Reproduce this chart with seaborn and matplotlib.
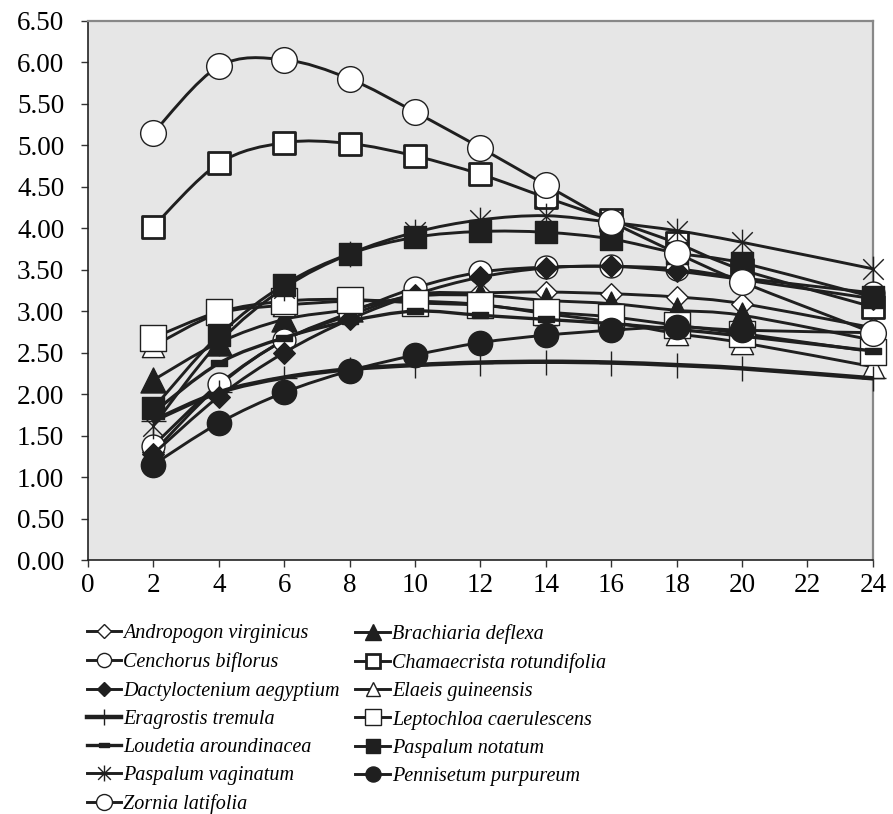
import numpy as np
import seaborn as sns
import matplotlib.pyplot as plt
from matplotlib.path import Path
from matplotlib.patches import PathPatch
from matplotlib.lines import Line2D

# time points (h)
hours = [2, 4, 6, 8, 10, 12, 14, 16, 18, 20, 24]

# values
andropogon = [1.30, 2.10, 2.65, 2.95, 3.20, 3.22, 3.23, 3.21, 3.17, 3.09, 2.80]
brachiaria = [2.17, 2.62, 2.90, 3.02, 3.18, 3.19, 3.13, 3.09, 3.01, 2.95, 2.65]
cenchorus = [1.38, 2.12, 2.65, 2.98, 3.28, 3.47, 3.53, 3.54, 3.51, 3.40, 3.22]
chamaecrista = [4.02, 4.78, 5.03, 5.02, 4.87, 4.65, 4.37, 4.10, 3.82, 3.50, 3.05]
dactyloctenium = [1.28, 1.97, 2.50, 2.90, 3.20, 3.41, 3.52, 3.54, 3.48, 3.38, 3.15]
elaeis = [2.58, 2.97, 3.07, 3.12, 3.12, 3.08, 2.97, 2.87, 2.73, 2.62, 2.33]
eragrostis = [1.68, 2.02, 2.20, 2.30, 2.35, 2.38, 2.39, 2.38, 2.35, 2.31, 2.19]
leptochloa = [2.68, 2.99, 3.12, 3.14, 3.10, 3.07, 2.99, 2.93, 2.83, 2.73, 2.51]
loudetia = [1.78, 2.37, 2.68, 2.88, 3.00, 2.95, 2.90, 2.85, 2.78, 2.70, 2.52]
notatum = [1.83, 2.71, 3.32, 3.69, 3.89, 3.96, 3.95, 3.87, 3.70, 3.58, 3.17]
vaginatum = [1.62, 2.62, 3.28, 3.69, 3.95, 4.10, 4.15, 4.07, 3.97, 3.83, 3.51]
pennisetum = [1.15, 1.65, 2.02, 2.28, 2.47, 2.62, 2.71, 2.77, 2.81, 2.77, 2.74]
zornia = [5.15, 5.95, 6.03, 5.80, 5.40, 4.97, 4.52, 4.08, 3.70, 3.35, 2.74]

names = ["Andropogon virginicus", "Brachiaria deflexa", "Cenchorus biflorus",
         "Chamaecrista rotundifolia", "Dactyloctenium aegyptium", "Elaeis guineensis",
         "Eragrostis tremula", "Leptochloa caerulescens", "Loudetia aroundinacea",
         "Paspalum notatum", "Paspalum vaginatum", "Pennisetum purpureum", "Zornia latifolia"]
series = [andropogon, brachiaria, cenchorus, chamaecrista, dactyloctenium, elaeis,
          eragrostis, leptochloa, loudetia, notatum, vaginatum, pennisetum, zornia]

# custom marker shapes
asterisk = Path([(0, -1), (0, 1), (-0.8, -0.8), (0.8, 0.8), (-0.8, 0.8), (0.8, -0.8)],
                [Path.MOVETO, Path.LINETO, Path.MOVETO, Path.LINETO, Path.MOVETO, Path.LINETO])
bar = [(-1, -0.32), (1, -0.32), (1, 0.32), (-1, 0.32), (-1, -0.32)]

INK = "#1f1f1f"

# marker, size (pt), face, marker edge width, line width
styles = [
    ("D", 11, "white", 1.0, 2.1),
    ("^", 18, INK, 1.0, 2.1),
    ("o", 16.5, "white", 1.0, 2.1),
    ("s", 16, "white", 2.0, 2.1),
    ("D", 11, INK, 1.0, 2.1),
    ("^", 16, "white", 1.0, 2.1),
    ("+", 18, INK, 1.0, 3.2),
    ("s", 18.5, "white", 1.0, 2.1),
    (bar, 11.5, INK, 1.0, 2.4),
    ("s", 16, INK, 1.0, 2.1),
    (asterisk, 18.5, INK, 1.0, 2.1),
    ("o", 17.5, INK, 1.0, 2.1),
    ("o", 18.5, "white", 1.0, 2.1),
]


def smooth_path(xs, ys):
    # Excel style smoothed line: cubic Bezier through every point
    p = np.column_stack([xs, ys]).astype(float)
    ext = np.vstack([p[0], p, p[-1]])
    verts = [p[0]]
    codes = [Path.MOVETO]
    for i in range(len(p) - 1):
        c1 = ext[i + 1] + (ext[i + 2] - ext[i]) / 6.0
        c2 = ext[i + 2] - (ext[i + 3] - ext[i + 1]) / 6.0
        verts += [c1, c2, p[i + 1]]
        codes += [Path.CURVE4] * 3
    return Path(verts, codes)


plt.rcParams['font.family'] = ['Liberation Serif', 'DejaVu Serif']

fig = plt.figure(figsize=(8.93, 8.14), dpi=100)
ax = fig.add_axes([0.0985, 0.312, 0.879, 0.6625])
ax.set_facecolor("#e6e6e6")

handles = []
for i, (name, ys, st) in enumerate(zip(names, series, styles)):
    marker, ms, face, mew, lw = st
    ax.add_patch(PathPatch(smooth_path(hours, ys), fill=False, edgecolor=INK,
                           lw=lw, zorder=2 + 2 * i, capstyle="round"))
    if marker == "+":
        sns.scatterplot(x=hours, y=ys, marker=marker, s=ms ** 2, color=INK,
                        linewidth=mew, ax=ax, zorder=3 + 2 * i, clip_on=False)
    else:
        sns.scatterplot(x=hours, y=ys, marker=marker, s=ms ** 2, color=face,
                        edgecolor=INK, linewidth=mew, ax=ax, zorder=3 + 2 * i,
                        clip_on=False)
    handles.append(Line2D([], [], color=INK, lw=lw, marker=marker,
                          markersize=ms * 0.62, markerfacecolor=face,
                          markeredgecolor=INK, markeredgewidth=mew))

ax.set_xlim(0, 24)
ax.set_ylim(0, 6.5)
ax.set_xticks(range(0, 25, 2))
ax.set_yticks(np.arange(0, 6.51, 0.5))
ax.set_yticklabels([f"{v:.2f}" for v in np.arange(0, 6.51, 0.5)])
ax.tick_params(axis="both", labelsize=19.5, direction="out", length=5, width=1, color="#333333")
ax.tick_params(axis="y", pad=12)
ax.tick_params(axis="x", pad=4)
for side in ["left", "bottom"]:
    ax.spines[side].set_color("#222222")
    ax.spines[side].set_linewidth(1.2)
for side in ["top", "right"]:
    ax.spines[side].set_color("#888888")
    ax.spines[side].set_linewidth(1.6)

# legend: row-major order, two columns drawn as two legends
left_col = list(range(0, 13, 2))
right_col = list(range(1, 13, 2))
legend_kw = dict(loc="upper left", frameon=False, prop={"style": "italic", "size": 14.5},
                 handlelength=1.7, handletextpad=0.12, labelspacing=0.45,
                 borderpad=0, borderaxespad=0)
fig.legend([handles[k] for k in left_col], [names[k] for k in left_col],
           bbox_to_anchor=(0.097, 0.233), **legend_kw)
fig.legend([handles[k] for k in right_col], [names[k] for k in right_col],
           bbox_to_anchor=(0.398, 0.233), **legend_kw)

fig.savefig("out.png", dpi=100, facecolor="white")
